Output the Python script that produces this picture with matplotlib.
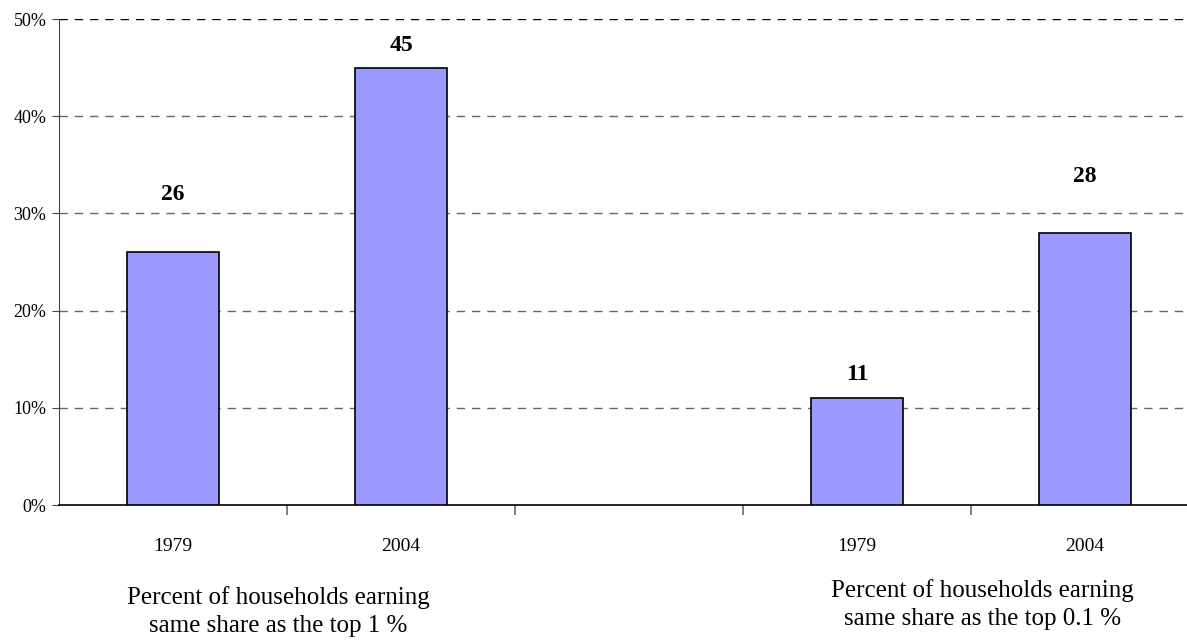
import numpy as np
import matplotlib.pyplot as plt

years = ['1979', '2004', '', '1979', '2004']
shares = [26, 45, None, 11, 28]
group_labels = ['Percent of households earning\nsame share as the top 1 %',
                'Percent of households earning\nsame share as the top 0.1 %']

plt.rcParams['font.family'] = ['Liberation Serif', 'DejaVu Serif']

fig = plt.figure(figsize=(11.87, 6.4), dpi=100)
# axes run a little past the right edge, as in the original
ax = fig.add_axes([59 / 1187, 1 - 505 / 640, 1140 / 1187, 486 / 640])

x = np.arange(len(years))
for xi, v in zip(x, shares):
    if v is None:
        continue
    ax.bar(xi, v, width=0.4, color='#9999ff', edgecolor='black', linewidth=1.2, zorder=3)

# value labels (placement as in the source chart)
label_y = [31.9, 47.3, None, 13.4, 33.8]
for xi, v, ly in zip(x, shares, label_y):
    if v is None:
        continue
    ax.text(xi, ly, str(v), ha='center', va='center', fontsize=17, fontweight='bold')

ax.set_xlim(-0.5, len(years) - 0.5)
ax.set_ylim(0, 50)
ax.set_yticks(np.arange(0, 51, 10))
ax.set_yticklabels(['%d%%' % t for t in range(0, 51, 10)], fontsize=13)
for t in range(10, 51, 10):
    ax.axhline(t, color='black' if t == 50 else '#666666', linestyle=(0, (6, 5)),
               linewidth=1, zorder=1)

ax.set_xticks(x)
ax.set_xticklabels(years, fontsize=14)
ax.tick_params(axis='x', length=0, pad=24)
ax.set_xticks(np.arange(0.5, len(years) - 0.5, 1), minor=True)
ax.tick_params(axis='x', which='minor', length=7, color='#666666', width=1.2)
ax.tick_params(axis='y', length=5, color='#444444', pad=4)

for s in ['top', 'right']:
    ax.spines[s].set_visible(False)
ax.spines['left'].set_color('#444444')
ax.spines['bottom'].set_color('black')
ax.spines['bottom'].set_linewidth(1.2)

ax.text(0.46, -11.0, group_labels[0], ha='center', va='center', fontsize=18, linespacing=1.35)
ax.text(3.55, -10.2, group_labels[1], ha='center', va='center', fontsize=18, linespacing=1.35)

fig.savefig('out.png', dpi=100)
